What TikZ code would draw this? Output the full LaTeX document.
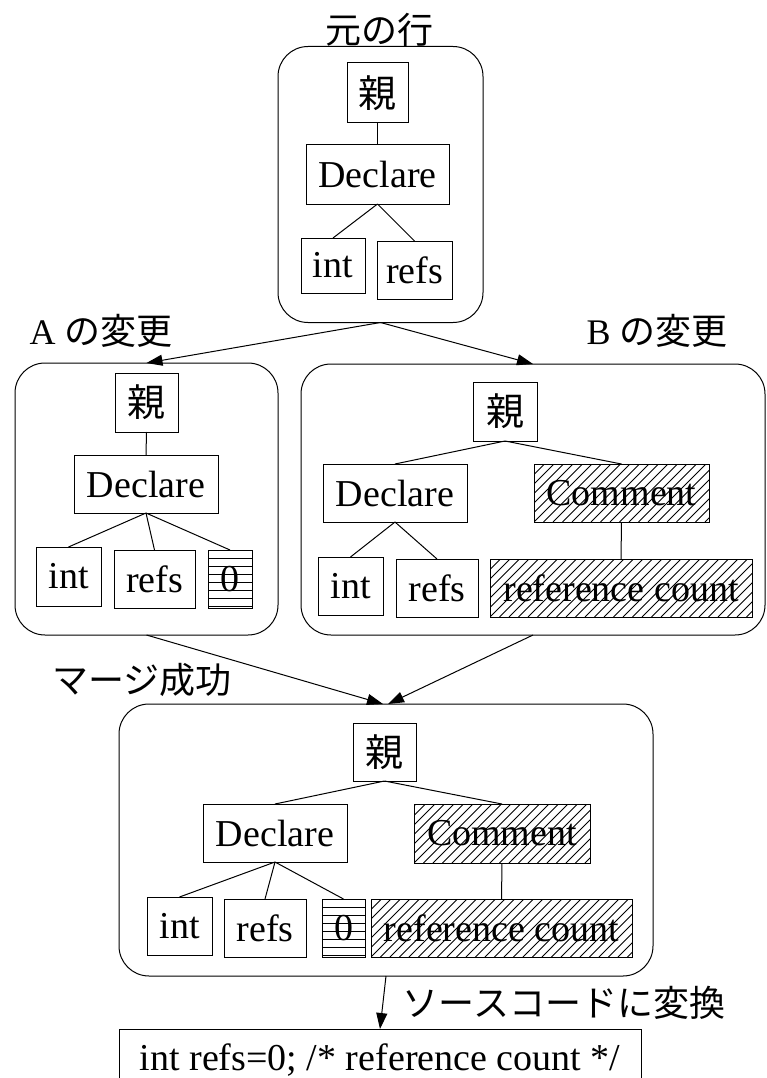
\documentclass[tikz,border=0pt]{standalone}
\usepackage{fontspec}
\setmainfont{Liberation Serif}
\newfontfamily\jpfont{Noto Sans CJK JP}
\usetikzlibrary{arrows.meta,calc}
\begin{document}
\begin{tikzpicture}[x=1pt,y=-1pt,
  every node/.style={inner sep=0pt, outer sep=0pt},
  leaf/.style={draw, line width=1pt, font=\fontsize{38}{40}\selectfont},
  kanji/.style={draw, line width=1pt, font=\jpfont\fontsize{38}{40}\selectfont},
  group/.style={draw, line width=1pt, rounded corners=30pt},
  caption/.style={font=\fontsize{36}{40}\selectfont},
  link/.style={line width=1pt},
  flow/.style={line width=1pt, -{Triangle[length=16pt,width=11pt]}},
  diaghatch/.style={path picture={
    \foreach \k in {-30,...,30}
      \draw[line width=0.8pt] ($(path picture bounding box.south west)+(\k*9.5pt,0pt)$) -- ++(80pt,80pt);}},
  rowhatch/.style={path picture={
    \foreach \k in {1,...,7}
      \draw[line width=0.8pt] ($(path picture bounding box.north west)+(0pt,-\k*8pt)$) -- ++(60pt,0pt);}}
]
\clip (0,0) rectangle (766,1078);

% ---- original line ----
\node[caption] (tTitle) at (379,30) {\jpfont 元の行};
\node[group, minimum width=205pt, minimum height=276pt] (T) at (380.5,184.5) {};
\node[kanji, minimum width=61pt, minimum height=60pt] (tP) at (377.5,93) {親};
\node[leaf, minimum width=143pt, minimum height=59pt] (tD) at (377.5,174.5) {Declare};
\node[leaf, minimum width=64pt, minimum height=55pt] (tI) at (333,265.5) {int};
\node[leaf, minimum width=75pt, minimum height=58pt] (tR) at (414.5,270) {refs};
\draw[link] (tP.south) -- (tD.north);
\draw[link] (tD.south) -- (tI.north);
\draw[link] (tD.south) -- (tR.north);

% ---- change A ----
\node[caption] (aTitle) at (101,331) {A {\jpfont の変更}};
\node[group, minimum width=263pt, minimum height=272pt] (A) at (146.5,499) {};
\node[kanji, minimum width=63pt, minimum height=59pt] (aP) at (146.5,402.5) {親};
\node[leaf, minimum width=144pt, minimum height=58pt] (aD) at (146,484) {Declare};
\node[leaf, minimum width=65pt, minimum height=59pt] (aI) at (68.5,576.5) {int};
\node[leaf, minimum width=81pt, minimum height=58pt] (aR) at (154.5,579) {refs};
\node[leaf, rowhatch, minimum width=44pt, minimum height=58pt] (aZ) at (230,579) {0};
\draw[link] (aP.south) -- (aD.north);
\draw[link] (aD.south) -- (aI.north);
\draw[link] (aD.south) -- (aR.north);
\draw[link] (aD.south) -- (aZ.north);

% ---- change B ----
\node[caption] (bTitle) at (657,331) {B {\jpfont の変更}};
\node[group, minimum width=464pt, minimum height=271pt] (B) at (533,499.5) {};
\node[kanji, minimum width=64pt, minimum height=59pt] (bP) at (505,411.5) {親};
\node[leaf, minimum width=144pt, minimum height=58pt] (bD) at (395,493) {Declare};
\node[leaf, diaghatch, minimum width=175pt, minimum height=58pt] (bC) at (621.5,493) {Comment};
\node[leaf, minimum width=65pt, minimum height=58pt] (bI) at (350.5,586) {int};
\node[leaf, minimum width=82pt, minimum height=58pt] (bR) at (437,588) {refs};
\node[leaf, diaghatch, minimum width=262pt, minimum height=58pt] (bK) at (621,588) {reference count};
\draw[link] (bP.south) -- (bD.north);
\draw[link] (bP.south) -- (bC.north);
\draw[link] (bD.south) -- (bI.north);
\draw[link] (bD.south) -- (bR.north);
\draw[link] (bC.south) -- (bK.north);

% ---- merged result ----
\node[caption] (mTitle) at (142,680) {\jpfont マージ成功};
\node[group, minimum width=534pt, minimum height=272pt] (M) at (386,840) {};
\node[kanji, minimum width=63pt, minimum height=58pt] (mP) at (384.5,752) {親};
\node[leaf, minimum width=144pt, minimum height=58pt] (mD) at (275,833) {Declare};
\node[leaf, diaghatch, minimum width=176pt, minimum height=59pt] (mC) at (502,833.5) {Comment};
\node[leaf, minimum width=65pt, minimum height=58pt] (mI) at (179.5,926) {int};
\node[leaf, minimum width=82pt, minimum height=58pt] (mR) at (265,928) {refs};
\node[leaf, rowhatch, minimum width=43pt, minimum height=58pt] (mZ) at (343.5,928) {0};
\node[leaf, diaghatch, minimum width=261pt, minimum height=58pt] (mK) at (501.5,928) {reference count};
\draw[link] (mP.south) -- (mD.north);
\draw[link] (mP.south) -- (mC.north);
\draw[link] (mD.south) -- (mI.north);
\draw[link] (mD.south) -- (mR.north);
\draw[link] (mD.south) -- (mZ.north);
\draw[link] (mC.south) -- (mK.north);

% ---- generated source ----
\node[caption] (sTitle) at (564,1003) {\jpfont ソースコードに変換};
\node[leaf, minimum width=522pt, minimum height=63pt, anchor=north] (S) at (380,1029) {int refs=0; /* reference count */};

% ---- flow between stages ----
\draw[flow] (T.south) -- (A.north);
\draw[flow] (T.south) -- (B.north);
\draw[flow] (A.south) -- ($(M.north)+(-3pt,0pt)$);
\draw[flow] (B.south) -- ($(M.north)+(2pt,0pt)$);
\draw[flow] (M.south) -- (S.north);
\end{tikzpicture}
\end{document}
